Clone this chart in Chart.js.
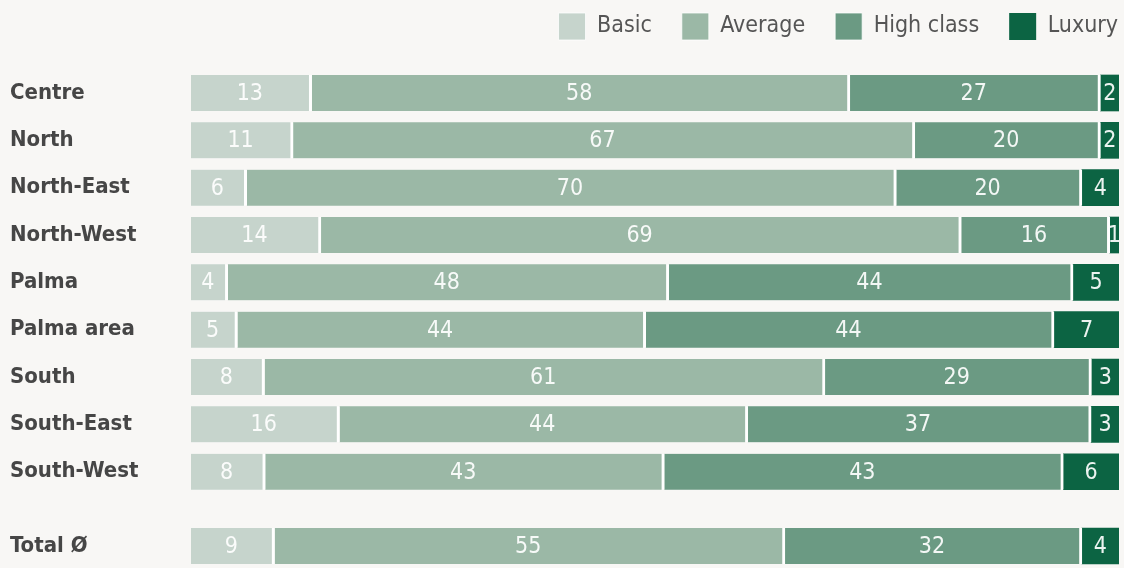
<!DOCTYPE html>
<html>
<head>
<meta charset="utf-8">
<script src="https://cdn.jsdelivr.net/npm/chart.js@4/dist/chart.umd.min.js"></script>
<style>
  html, body { margin: 0; padding: 0; background: #f8f7f5; }
  #wrap { width: 1124px; height: 568px; }
</style>
</head>
<body>
<div id="wrap"><canvas id="chartSegments"></canvas></div>
<script>
// Donnees
const categories = ['Centre', 'North', 'North-East', 'North-West', 'Palma', 'Palma area', 'South', 'South-East', 'South-West', 'Total Ø'];
const rowPositions = [0, 1, 2, 3, 4, 5, 6, 7, 8, 9.57];
const basic = [13, 11, 6, 14, 4, 5, 8, 16, 8, 9];
const average = [58, 67, 70, 69, 48, 44, 61, 44, 43, 55];
const highClass = [27, 20, 20, 16, 44, 44, 29, 37, 43, 32];
const luxury = [2, 2, 4, 1, 5, 7, 3, 3, 6, 4];

const seriesNames = ['Basic', 'Average', 'High class', 'Luxury'];
const seriesColors = ['#c6d4cc', '#9bb8a6', '#6b9a83', '#0c6443'];
const allSeries = [basic, average, highClass, luxury];

const narrow = "'DejaVu Sans Condensed', 'Liberation Sans Narrow', sans-serif";

// chaque ligne ramenee a 100 %
const rowSums = categories.map((c, i) => allSeries.reduce((s, arr) => s + arr[i], 0));

const datasets = allSeries.map((arr, k) => ({
    label: seriesNames[k],
    data: arr.map((v, i) => ({ x: v / rowSums[i] * 100, y: rowPositions[i], raw: v })),
    backgroundColor: seriesColors[k],
    borderColor: '#ffffff',
    borderWidth: k === 3 ? 0 : { top: 0, bottom: 0, left: 0, right: 3 },
    borderSkipped: false,
    barThickness: 36
}));

// Valeurs au centre des barres
const valueLabels = {
    id: 'valueLabels',
    afterDatasetsDraw(chart) {
        const ctx = chart.ctx;
        ctx.save();
        ctx.font = '23px ' + narrow;
        ctx.fillStyle = 'rgba(255,255,255,0.92)';
        ctx.textAlign = 'center';
        ctx.textBaseline = 'middle';
        chart.data.datasets.forEach((ds, i) => {
            chart.getDatasetMeta(i).data.forEach((bar, j) => {
                const p = bar.getProps(['x', 'y', 'base'], true);
                const w = ds.borderWidth && ds.borderWidth.right ? ds.borderWidth.right : 0;
                ctx.fillText(String(ds.data[j].raw), (p.x - w + p.base) / 2, p.y + 1);
            });
        });
        ctx.restore();
    }
};

// Legende decalee en haut a droite
const legendShift = {
    id: 'legendShift',
    afterLayout(chart) {
        const lg = chart.legend;
        lg.left += 29;
        lg.right += 29;
        lg.top -= 17;
        lg.bottom -= 17;
    }
};

const ctx = document.getElementById('chartSegments').getContext('2d');
const chart = new Chart(ctx, {
    type: 'bar',
    data: { datasets: datasets },
    plugins: [valueLabels, legendShift],
    options: {
        indexAxis: 'y',
        responsive: true,
        maintainAspectRatio: false,
        animation: false,
        layout: { padding: { left: 10, right: 5, top: 0, bottom: 0 } },
        scales: {
            x: {
                stacked: true,
                min: 0,
                max: 100,
                display: false
            },
            y: {
                type: 'linear',
                stacked: true,
                reverse: true,
                offset: false,
                min: -0.549,
                max: 10.034,
                grid: { display: false },
                border: { display: false },
                afterBuildTicks: function(scale) {
                    scale.ticks = rowPositions.map(v => ({ value: v }));
                },
                afterFit: function(scale) {
                    scale.width = 181;
                    scale.paddingTop = 0;
                    scale.paddingBottom = 0;
                },
                ticks: {
                    autoSkip: false,
                    crossAlign: 'far',
                    color: '#464646',
                    font: { family: narrow, size: 22, weight: 'bold' },
                    callback: function(value) {
                        return categories[rowPositions.indexOf(value)];
                    }
                }
            }
        },
        plugins: {
            legend: {
                position: 'top',
                align: 'end',
                labels: {
                    boxWidth: 27,
                    boxHeight: 27,
                    padding: 30,
                    color: '#555555',
                    font: { family: narrow, size: 23 }
                }
            },
            tooltip: { enabled: false }
        }
    }
});
</script>
</body>
</html>
